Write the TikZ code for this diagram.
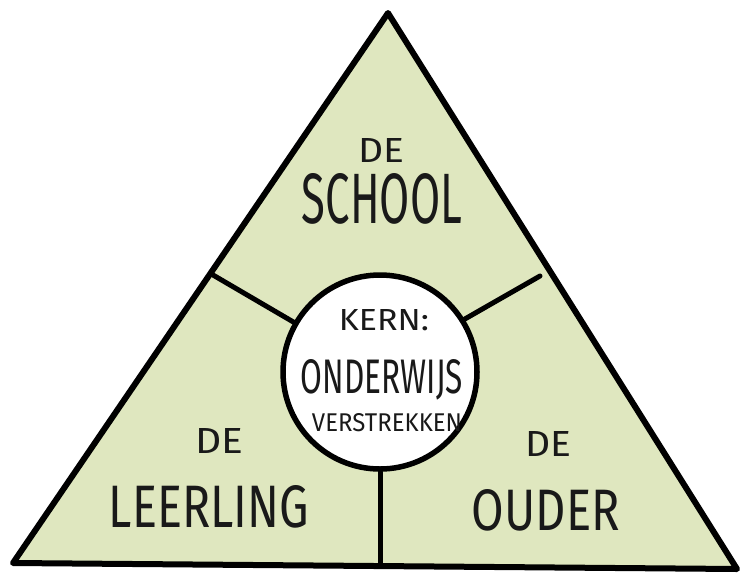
\documentclass[tikz,border=0pt]{standalone}
\usepackage{fontspec}
\setmainfont{Fira Sans}
\usepackage{graphicx}
\usetikzlibrary{positioning}
\definecolor{leaf}{HTML}{DFE7BF}
\newcommand{\hand}[3]{\resizebox{#1pt}{#2pt}{#3}}

\begin{document}
\begin{tikzpicture}[x=1pt,y=-1pt,line join=round,line cap=round,
 edge/.style={draw=black,line width=6pt},
 divider/.style={draw=black,line width=5pt},
 word/.style={inner sep=0pt,text=black!90}]
\useasboundingbox (0,0) rectangle (744,579);
\coordinate (top) at (388,13);
\coordinate (left) at (13,563);
\coordinate (right) at (737,569);
\filldraw[edge,fill=leaf] (top)--(left)--(right)--cycle;
% dividers from the circle to the sides
\coordinate (lside) at (213,275);
\coordinate (rside) at (540,276);
\coordinate (base) at (380,566);
\node[circle,draw=black,line width=5.5pt,fill=white,minimum size=194pt,inner sep=0pt] (kern) at (380,372) {};
\draw[divider] (lside)--(kern.150);
\draw[divider] (rside)--(kern.32);
\draw[divider] (kern.south)--(base);
% texts
\node[word] (de1) at (381,150) {\hand{46}{24}{DE}};
\node[word] (school) at (382,199) {\hand{160}{50}{SCHOOL}};
\node[word] (de2) at (219,441) {\hand{48}{25}{DE}};
\node[word] (leerling) at (209,507) {\hand{200}{42}{LEERLING}};
\node[word] (de3) at (548,444) {\hand{46}{25}{DE}};
\node[word] (ouder) at (546,510) {\hand{148}{41}{OUDER}};
\node[word] (kern1) at (384,320) {\hand{90}{21}{KERN:}};
\node[word] (kern2) at (382,380) {\hand{162}{34}{ONDERWIJS}};
\node[word] (kern3) at (387,423) {\hand{150}{18}{VERSTREKKEN}};
\end{tikzpicture}
\end{document}
